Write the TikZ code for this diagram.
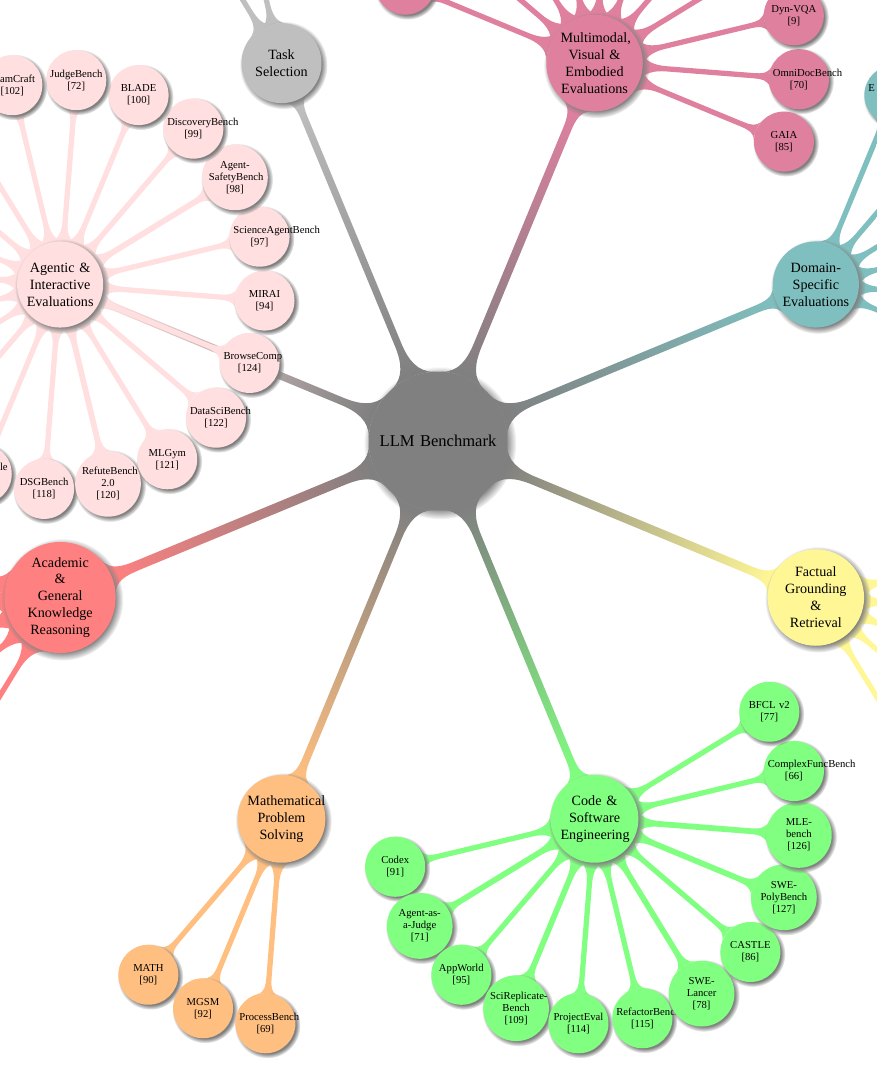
\documentclass[tikz,border=0pt]{standalone}
\usepackage{fontspec}
\setmainfont{Liberation Serif}
\usetikzlibrary{mindmap,shadows,backgrounds,calc}
\colorlet{cRoot}{black!50}
\colorlet{cAgentic}{pink!50}
\colorlet{cTask}{black!25}
\colorlet{cMulti}{purple!50}
\colorlet{cDomain}{teal!50}
\definecolor{cFact}{RGB}{255,247,150}
\colorlet{cCode}{green!50}
\colorlet{cMath}{orange!50}
\colorlet{cAcad}{red!50}
\begin{document}
\begin{tikzpicture}[x=0.75pt,y=0.75pt,mindmap,
  cnode/.style={circle, fill=#1, draw=none, text=black, align=center, circular drop shadow},
  rootc/.style={cnode=#1, minimum size=100pt, inner sep=2pt, font=\fontsize{12.4}{15}\selectfont},
  mainc/.style={cnode=#1, minimum size=60pt, inner sep=1.5pt, text width=51pt, font=\fontsize{10.6}{12.7}\selectfont},
  leafc/.style={cnode=#1, minimum size=45pt, inner sep=1.2pt, text width=39pt, font=\fontsize{8}{9}\selectfont},
  topbar/.style={line width=8.5pt},
  subbar/.style={line width=5.5pt}]
\useasboundingbox (0,-1070) rectangle (877,0);
\clip (0,-1070) rectangle (877,0);

% root and main concepts
\node[rootc=cRoot] (root) at (438,-441) {LLM Benchmark};
\node[mainc=cAgentic] (agentic) at ($(root)+(157.5:409)$) {Agentic \&\\Interactive\\Evaluations};
\node[mainc=cTask] (task) at ($(root)+(112.5:409)$) {Task\\Selection};
\node[mainc=cMulti] (multi) at ($(root)+(67.5:409)$) {Multimodal,\\Visual \&\\Embodied\\Evaluations};
\node[mainc=cDomain] (domain) at ($(root)+(22.5:409)$) {\mbox{Domain-}\\Specific\\Evaluations};
\node[mainc=cFact] (fact) at ($(root)+(-22.5:409)$) {Factual\\Grounding\\\&\\Retrieval};
\node[mainc=cCode] (code) at ($(root)+(-67.5:409)$) {Code \&\\Software\\Engineering};
\node[mainc=cMath] (math) at ($(root)+(-112.5:409)$) {Mathematical\\Problem\\Solving};
\node[mainc=cAcad] (acad) at ($(root)+(-157.5:409)$) {Academic\\\&\\General\\Knowledge\\Reasoning};

% Agentic & Interactive
\node[leafc=cAgentic] (ag1) at ($(agentic)+(-4.5:205)$) {MIRAI\\{[94]}};
\node[leafc=cAgentic] (ag2) at ($(agentic)+(13.5:205)$) {ScienceAgentBench\\{[97]}};
\node[leafc=cAgentic] (ag3) at ($(agentic)+(31.5:205)$) {\mbox{Agent-}\\SafetyBench\\{[98]}};
\node[leafc=cAgentic] (ag4) at ($(agentic)+(49.5:205)$) {DiscoveryBench\\{[99]}};
\node[leafc=cAgentic] (ag5) at ($(agentic)+(67.5:205)$) {BLADE\\{[100]}};
\node[leafc=cAgentic] (ag6) at ($(agentic)+(85.5:205)$) {JudgeBench\\{[72]}};
\node[leafc=cAgentic] (ag7) at ($(agentic)+(103.5:205)$) {TeamCraft\\{[102]}};
\foreach \k/\a in {8/121.5,9/139.5,10/157.5,11/175.5,12/193.5,13/211.5,14/229.5}
  \node[leafc=cAgentic] (ag\k) at ($(agentic)+(\a:205)$) {};
\node[leafc=cAgentic] (ag15) at ($(agentic)+(247.5:205)$) {\makebox[39pt][r]{le}\\\phantom{[119]}};
\node[leafc=cAgentic] (ag16) at ($(agentic)+(265.5:205)$) {DSGBench\\{[118]}};
\node[leafc=cAgentic] (ag17) at ($(agentic)+(283.5:205)$) {RefuteBench\\2.0\\{[120]}};
\node[leafc=cAgentic] (ag18) at ($(agentic)+(301.5:205)$) {MLGym\\{[121]}};
\node[leafc=cAgentic] (ag19) at ($(agentic)+(319.5:205)$) {DataSciBench\\{[122]}};
\node[leafc=cAgentic] (ag20) at ($(agentic)+(337.5:205)$) {BrowseComp\\{[124]}};

% Task Selection
\node[leafc=cTask] (tk1) at ($(task)+(103.5:205)$) {};
\node[leafc=cTask] (tk2) at ($(task)+(121.5:205)$) {};

% Multimodal
\node[leafc=cMulti] (mm0) at ($(multi)+(-22.5:205)$) {GAIA\\{[85]}};
\node[leafc=cMulti] (mm1) at ($(multi)+(-4.5:205)$) {OmniDocBench\\{[70]}};
\node[leafc=cMulti] (mm2) at ($(multi)+(13.5:205)$) {Dyn-VQA\\{[9]}};
\foreach \k/\a in {3/31.5,4/49.5,5/67.5,6/85.5,7/103.5,8/121.5,9/139.5,10/157.5}
  \node[leafc=cMulti] (mm\k) at ($(multi)+(\a:205)$) {};

% Domain-Specific
\foreach \k/\a in {0/-22.5,1/-4.5,2/13.5,3/31.5,4/49.5}
  \node[leafc=cDomain] (dm\k) at ($(domain)+(\a:205)$) {};
\node[leafc=cDomain] (dm5) at ($(domain)+(67.5:205)$) {\makebox[39pt][l]{E}\\\phantom{[0]}};

% Factual
\foreach \k/\a in {0/-58.5,1/-40.5,2/-22.5,3/-4.5,4/13.5}
  \node[leafc=cFact] (ft\k) at ($(fact)+(\a:205)$) {};

% Code
\node[leafc=cCode] (cd0) at ($(code)+(-166.5:205)$) {Codex\\{[91]}};
\node[leafc=cCode] (cd1) at ($(code)+(-148.5:205)$) {\mbox{Agent-as-}\\\mbox{a-Judge}\\{[71]}};
\node[leafc=cCode] (cd2) at ($(code)+(-130.5:205)$) {AppWorld\\{[95]}};
\node[leafc=cCode] (cd3) at ($(code)+(-112.5:205)$) {\mbox{SciReplicate-}\\Bench\\{[109]}};
\node[leafc=cCode] (cd4) at ($(code)+(-94.5:205)$) {ProjectEval\\{[114]}};
\node[leafc=cCode] (cd5) at ($(code)+(-76.5:205)$) {RefactorBench\\{[115]}};
\node[leafc=cCode] (cd6) at ($(code)+(-58.5:205)$) {\mbox{SWE-}\\Lancer\\{[78]}};
\node[leafc=cCode] (cd7) at ($(code)+(-40.5:205)$) {CASTLE\\{[86]}};
\node[leafc=cCode] (cd8) at ($(code)+(-22.5:205)$) {\mbox{SWE-}\\PolyBench\\{[127]}};
\node[leafc=cCode] (cd9) at ($(code)+(-4.5:205)$) {\mbox{MLE-}\\bench\\{[126]}};
\node[leafc=cCode] (cd10) at ($(code)+(13.5:205)$) {ComplexFuncBench\\{[66]}};
\node[leafc=cCode] (cd11) at ($(code)+(31.5:205)$) {BFCL v2\\{[77]}};

% Math
\node[leafc=cMath] (mt0) at ($(math)+(-130.5:205)$) {MATH\\{[90]}};
\node[leafc=cMath] (mt1) at ($(math)+(-112.5:205)$) {MGSM\\{[92]}};
\node[leafc=cMath] (mt2) at ($(math)+(-94.5:205)$) {ProcessBench\\{[69]}};

% Academic
\foreach \k/\a in {0/166.5,1/184.5,2/202.5,3/220.5,4/238.5}
  \node[leafc=cAcad] (ac\k) at ($(acad)+(\a:205)$) {};

\begin{scope}[on background layer]
\clip (0,-1070) rectangle (877,0);
\path[topbar] (root) to[circle connection bar switch color=from (cRoot) to (cAgentic)] (agentic);
\path[topbar] (root) to[circle connection bar switch color=from (cRoot) to (cTask)] (task);
\path[topbar] (root) to[circle connection bar switch color=from (cRoot) to (cMulti)] (multi);
\path[topbar] (root) to[circle connection bar switch color=from (cRoot) to (cDomain)] (domain);
\path[topbar] (root) to[circle connection bar switch color=from (cRoot) to (cFact)] (fact);
\path[topbar] (root) to[circle connection bar switch color=from (cRoot) to (cCode)] (code);
\path[topbar] (root) to[circle connection bar switch color=from (cRoot) to (cMath)] (math);
\path[topbar] (root) to[circle connection bar switch color=from (cRoot) to (cAcad)] (acad);
\foreach \k in {1,...,20}
  \path[subbar] (agentic) to[circle connection bar switch color=from (cAgentic) to (cAgentic)] (ag\k);
\foreach \k in {1,2}
  \path[subbar] (task) to[circle connection bar switch color=from (cTask) to (cTask)] (tk\k);
\foreach \k in {0,...,10}
  \path[subbar] (multi) to[circle connection bar switch color=from (cMulti) to (cMulti)] (mm\k);
\foreach \k in {0,...,5}
  \path[subbar] (domain) to[circle connection bar switch color=from (cDomain) to (cDomain)] (dm\k);
\foreach \k in {0,...,4}
  \path[subbar] (fact) to[circle connection bar switch color=from (cFact) to (cFact)] (ft\k);
\foreach \k in {0,...,11}
  \path[subbar] (code) to[circle connection bar switch color=from (cCode) to (cCode)] (cd\k);
\foreach \k in {0,1,2}
  \path[subbar] (math) to[circle connection bar switch color=from (cMath) to (cMath)] (mt\k);
\foreach \k in {0,...,4}
  \path[subbar] (acad) to[circle connection bar switch color=from (cAcad) to (cAcad)] (ac\k);
\end{scope}
\end{tikzpicture}
\end{document}
